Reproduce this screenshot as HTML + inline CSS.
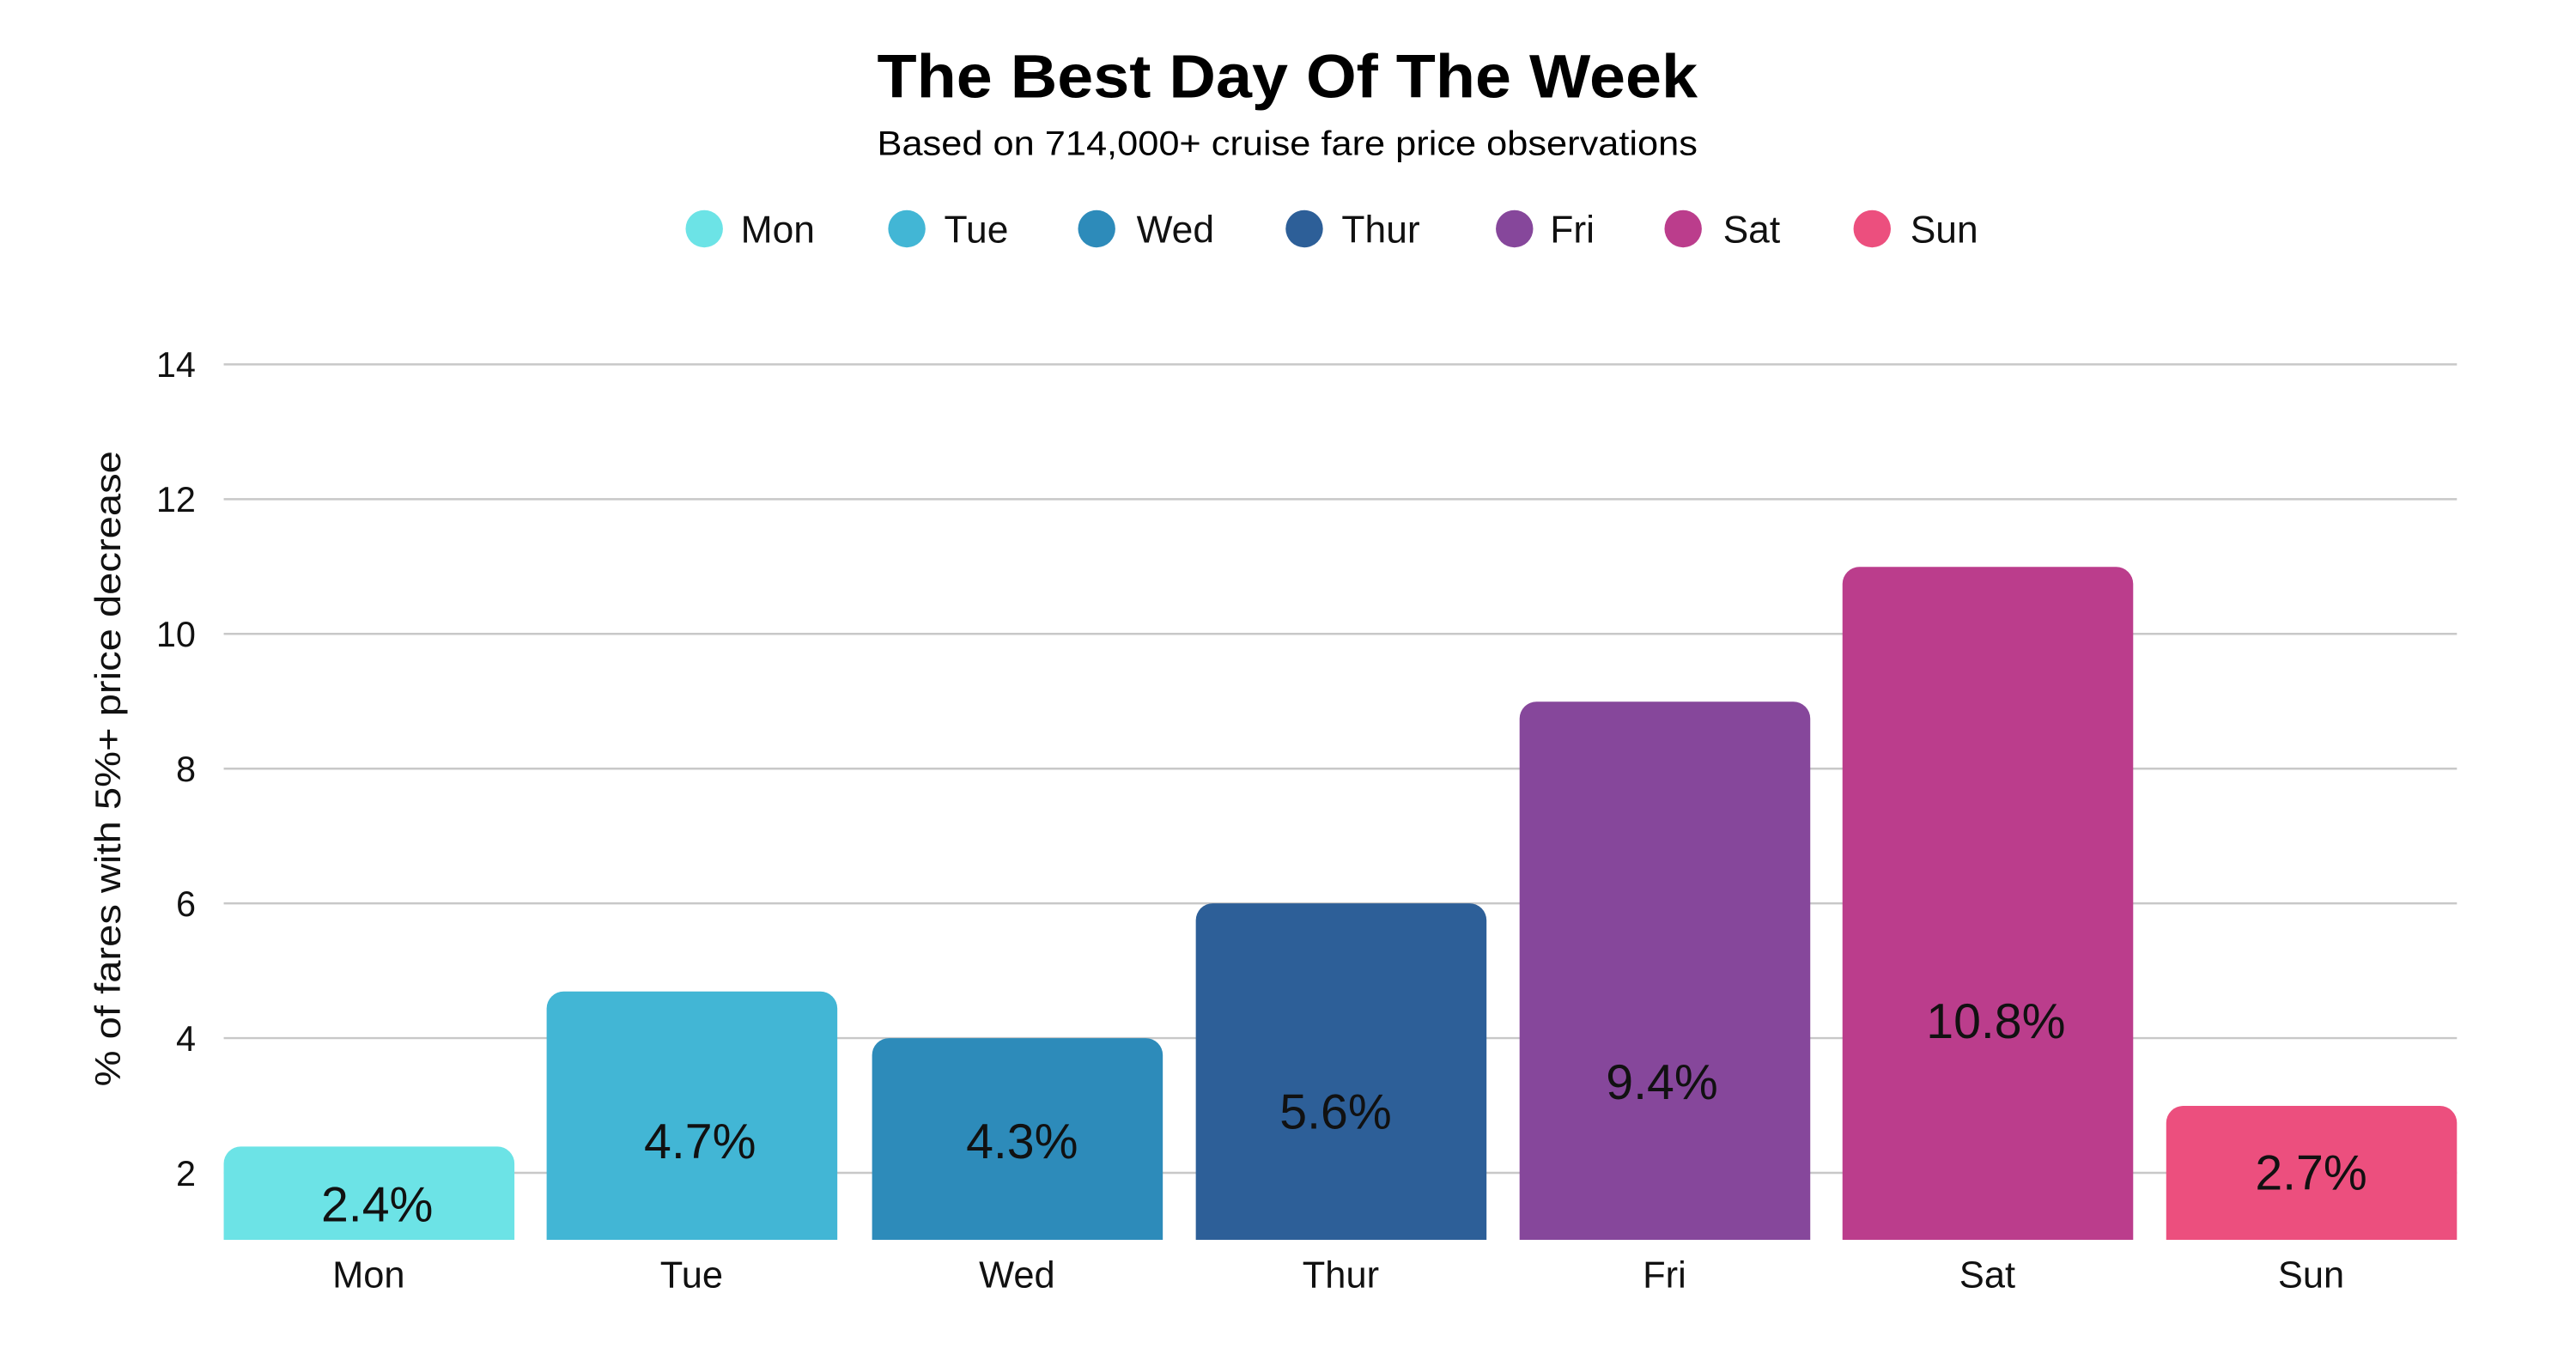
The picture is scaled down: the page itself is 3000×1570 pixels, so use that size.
<!DOCTYPE html>
<html><head><meta charset="utf-8"><style>
html,body{margin:0;padding:0;background:#fff;}
svg{display:block;font-family:"Liberation Sans",sans-serif;}
</style></head><body>
<svg width="3000" height="1570" viewBox="0 0 3000 1570" xmlns="http://www.w3.org/2000/svg">
<rect width="3000" height="1570" fill="#fff"/>
<g transform="scale(0.987)">
<text x="1519" y="115" text-anchor="middle" font-size="72" font-weight="bold" fill="#000" textLength="968" lengthAdjust="spacingAndGlyphs">The Best Day Of The Week</text>
<text x="1519" y="183" text-anchor="middle" font-size="40" fill="#000" textLength="968" lengthAdjust="spacingAndGlyphs">Based on 714,000+ cruise fare price observations</text>
<g font-size="45" fill="#111">
<circle cx="831" cy="270" r="22" fill="#6ce3e6"/><text x="874" y="286">Mon</text>
<circle cx="1070" cy="270" r="22" fill="#42b6d5"/><text x="1114" y="286">Tue</text>
<circle cx="1294" cy="270" r="22" fill="#2d8bba"/><text x="1341" y="286">Wed</text>
<circle cx="1539" cy="270" r="22" fill="#2d5f98"/><text x="1583" y="286">Thur</text>
<circle cx="1787" cy="270" r="22" fill="#86479b"/><text x="1829" y="286">Fri</text>
<circle cx="1986" cy="270" r="22" fill="#bb3d8c"/><text x="2033" y="286">Sat</text>
<circle cx="2209" cy="270" r="22" fill="#ec4f7e"/><text x="2254" y="286">Sun</text>
</g>
<g stroke="#c8c8c8" stroke-width="2.5">
<line x1="264" x2="2899" y1="430" y2="430"/>
<line x1="264" x2="2899" y1="589" y2="589"/>
<line x1="264" x2="2899" y1="748" y2="748"/>
<line x1="264" x2="2899" y1="907" y2="907"/>
<line x1="264" x2="2899" y1="1066" y2="1066"/>
<line x1="264" x2="2899" y1="1225" y2="1225"/>
<line x1="264" x2="2899" y1="1384" y2="1384"/>
</g>
<g font-size="42" fill="#111" text-anchor="end">
<text x="231" y="445">14</text><text x="231" y="604">12</text><text x="231" y="763">10</text>
<text x="231" y="922">8</text><text x="231" y="1081">6</text><text x="231" y="1240">4</text><text x="231" y="1399">2</text>
</g>
<text transform="translate(142,907) rotate(-90)" text-anchor="middle" font-size="42" fill="#111" textLength="750" lengthAdjust="spacingAndGlyphs">% of fares with 5%+ price decrease</text>
<g>
<path d="M264,1463 V1373 a20,20 0 0 1 20,-20 H587 a20,20 0 0 1 20,20 V1463 Z" fill="#6ce3e6"/>
<path d="M645,1463 V1190 a20,20 0 0 1 20,-20 H968 a20,20 0 0 1 20,20 V1463 Z" fill="#42b6d5"/>
<path d="M1029,1463 V1245 a20,20 0 0 1 20,-20 H1352 a20,20 0 0 1 20,20 V1463 Z" fill="#2d8bba"/>
<path d="M1411,1463 V1086 a20,20 0 0 1 20,-20 H1734 a20,20 0 0 1 20,20 V1463 Z" fill="#2d5f98"/>
<path d="M1793,1463 V848 a20,20 0 0 1 20,-20 H2116 a20,20 0 0 1 20,20 V1463 Z" fill="#86479b"/>
<path d="M2174,1463 V689 a20,20 0 0 1 20,-20 H2497 a20,20 0 0 1 20,20 V1463 Z" fill="#bb3d8c"/>
<path d="M2556,1463 V1325 a20,20 0 0 1 20,-20 H2879 a20,20 0 0 1 20,20 V1463 Z" fill="#ec4f7e"/>
</g>
<g font-size="58" fill="#111" text-anchor="middle">
<text x="445" y="1441">2.4%</text>
<text x="826" y="1367">4.7%</text>
<text x="1206" y="1367">4.3%</text>
<text x="1576" y="1332">5.6%</text>
<text x="1961" y="1297">9.4%</text>
<text x="2355" y="1225">10.8%</text>
<text x="2727" y="1404">2.7%</text>
</g>
<g font-size="44" fill="#111" text-anchor="middle">
<text x="435" y="1519">Mon</text><text x="816" y="1519">Tue</text><text x="1200" y="1519">Wed</text>
<text x="1582" y="1519">Thur</text><text x="1964" y="1519">Fri</text><text x="2345" y="1519">Sat</text><text x="2727" y="1519">Sun</text>
</g>
</g>
</svg>
</body></html>
